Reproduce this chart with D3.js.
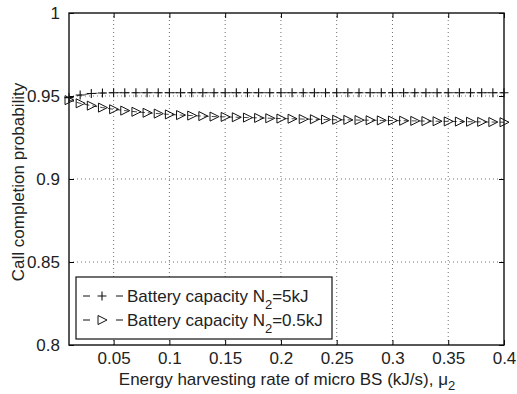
<!DOCTYPE html>
<html>
<head>
<meta charset="utf-8">
<script src="https://cdn.jsdelivr.net/npm/d3@7"></script>
<style>
  body { margin: 0; background: #fff; }
  text { font-family: "Liberation Sans", Arial, sans-serif; fill: #222; }
</style>
</head>
<body>
<div id="chart"></div>
<script>
// energy harvesting rate (kJ/s)
var rates = [0.01,0.02,0.03,0.04,0.05,0.06,0.07,0.08,0.09,0.10,
             0.11,0.12,0.13,0.14,0.15,0.16,0.17,0.18,0.19,0.20,
             0.21,0.22,0.23,0.24,0.25,0.26,0.27,0.28,0.29,0.30,
             0.31,0.32,0.33,0.34,0.35,0.36,0.37,0.38,0.39,0.40];
// N2 = 5kJ
var big = [0.9490,0.9506,0.9515,0.9518,0.9520,0.9520,0.9520,0.9520,0.9520,0.9520,
           0.9520,0.9520,0.9520,0.9520,0.9520,0.9520,0.9520,0.9520,0.9520,0.9520,
           0.9520,0.9520,0.9520,0.9520,0.9520,0.9520,0.9520,0.9520,0.9520,0.9520,
           0.9520,0.9520,0.9520,0.9520,0.9520,0.9520,0.9520,0.9520,0.9520,0.9520];
// N2 = 0.5kJ
var small = [0.9475,0.9456,0.9442,0.9430,0.9420,0.9412,0.9405,0.9399,0.9394,0.9389,
             0.9385,0.9382,0.9379,0.9376,0.9374,0.9372,0.9370,0.9368,0.9366,0.9364,
             0.9363,0.9361,0.9360,0.9358,0.9357,0.9356,0.9355,0.9354,0.9353,0.9352,
             0.9351,0.9350,0.9349,0.9348,0.9347,0.9346,0.9345,0.9344,0.9343,0.9342];
var xTicks = [0.05,0.1,0.15,0.2,0.25,0.3,0.35,0.4];
var yTicks = [0.8,0.85,0.9,0.95,1];

var W = 517, H = 394;
var m = {left: 69, right: 13, top: 13, bottom: 49};
var svg = d3.select('#chart').append('svg')
  .attr('width', W).attr('height', H);

var x = d3.scaleLinear().domain([0.01, 0.4]).range([m.left, W - m.right]);
var y = d3.scaleLinear().domain([0.8, 1]).range([H - m.bottom, m.top]);

// grid
var grid = svg.append('g').attr('stroke', '#333').attr('stroke-width', 0.7)
  .attr('stroke-dasharray', '1,3');
xTicks.filter(function(d){ return d < 0.4; }).forEach(function(d){
  grid.append('line').attr('x1', x(d)).attr('x2', x(d))
    .attr('y1', y(0.8)).attr('y2', y(1));
});
yTicks.filter(function(d){ return d > 0.8 && d < 1; }).forEach(function(d){
  grid.append('line').attr('y1', y(d)).attr('y2', y(d))
    .attr('x1', x(0.01)).attr('x2', x(0.4));
});

// axes (inward ticks, MATLAB-ish)
var fmt = function(d){ return d3.format('')(+d.toFixed(2)); };
svg.append('g').attr('transform', 'translate(0,' + y(0.8) + ')')
  .call(d3.axisBottom(x).tickValues(xTicks).tickSizeInner(-5).tickSizeOuter(0).tickPadding(7).tickFormat(fmt))
  .call(function(g){ g.select('.domain').remove(); })
  .selectAll('text').style('font-size', '17px').attr('fill', '#222');
svg.append('g').attr('transform', 'translate(0,' + y(1) + ')')
  .call(d3.axisTop(x).tickValues(xTicks).tickSizeInner(-5).tickSizeOuter(0).tickFormat(''))
  .call(function(g){ g.select('.domain').remove(); });
svg.append('g').attr('transform', 'translate(' + x(0.01) + ',0)')
  .call(d3.axisLeft(y).tickValues(yTicks).tickSizeInner(-5).tickSizeOuter(0).tickPadding(9).tickFormat(fmt))
  .call(function(g){ g.select('.domain').remove(); })
  .selectAll('text').style('font-size', '17px').attr('fill', '#222');
svg.append('g').attr('transform', 'translate(' + x(0.4) + ',0)')
  .call(d3.axisRight(y).tickValues(yTicks).tickSizeInner(-5).tickSizeOuter(0).tickFormat(''))
  .call(function(g){ g.select('.domain').remove(); });

svg.append('rect').attr('x', x(0.01)).attr('y', y(1))
  .attr('width', x(0.4) - x(0.01)).attr('height', y(0.8) - y(1))
  .attr('fill', 'none').attr('stroke', '#111').attr('stroke-width', 1.4);

// series
var line = d3.line().x(function(d){ return x(d[0]); }).y(function(d){ return y(d[1]); });
var s1 = rates.map(function(r, i){ return [r, big[i]]; });
var s2 = rates.map(function(r, i){ return [r, small[i]]; });

function plus(g, cx, cy){
  g.append('path').attr('d', 'M' + (cx - 4.5) + ',' + cy + 'h9M' + cx + ',' + (cy - 4.5) + 'v9')
    .attr('stroke', '#111').attr('stroke-width', 1.1).attr('fill', 'none');
}
function tri(g, cx, cy){
  g.append('path').attr('d', 'M' + (cx - 4) + ',' + (cy - 4.5) + 'L' + (cx + 5) + ',' + cy + 'L' + (cx - 4) + ',' + (cy + 4.5) + 'Z')
    .attr('stroke', '#111').attr('stroke-width', 1).attr('fill', 'none');
}

svg.append('path').datum(s1).attr('d', line).attr('fill', 'none')
  .attr('stroke', '#111').attr('stroke-width', 0.8).attr('stroke-dasharray', '5,3');
svg.append('path').datum(s2).attr('d', line).attr('fill', 'none')
  .attr('stroke', '#111').attr('stroke-width', 0.8).attr('stroke-dasharray', '5,3');
var mk = svg.append('g');
s1.forEach(function(d){ plus(mk, x(d[0]), y(d[1])); });
s2.forEach(function(d){ tri(mk, x(d[0]), y(d[1])); });

// legend
var lg = svg.append('g').attr('transform', 'translate(76,277)');
lg.append('rect').attr('width', 256).attr('height', 62)
  .attr('fill', '#fff').attr('stroke', '#111').attr('stroke-width', 1.2);
var entries = [{label: '5kJ', mark: plus, y: 19}, {label: '0.5kJ', mark: tri, y: 43}];
entries.forEach(function(e){
  lg.append('line').attr('x1', 7).attr('x2', 47).attr('y1', e.y).attr('y2', e.y)
    .attr('stroke', '#111').attr('stroke-width', 1).attr('stroke-dasharray', '7,26');
  e.mark(lg, 26, e.y);
  var t = lg.append('text').attr('x', 51).attr('y', e.y + 6).style('font-size', '17px');
  t.append('tspan').text('Battery capacity N');
  t.append('tspan').attr('dy', 7).style('font-size', '13px').text('2');
  t.append('tspan').attr('dy', -7).text('=' + e.label);
});

// axis labels
var xl = svg.append('text').attr('x', 287).attr('y', 385).attr('text-anchor', 'middle')
  .style('font-size', '17px');
xl.append('tspan').text('Energy harvesting rate of micro BS (kJ/s), \u03bc');
xl.append('tspan').attr('dy', 5).style('font-size', '13px').text('2');
svg.append('text').attr('transform', 'translate(24,182) rotate(-90)')
  .attr('text-anchor', 'middle').style('font-size', '17px').text('Call completion probability');
</script>
</body>
</html>
